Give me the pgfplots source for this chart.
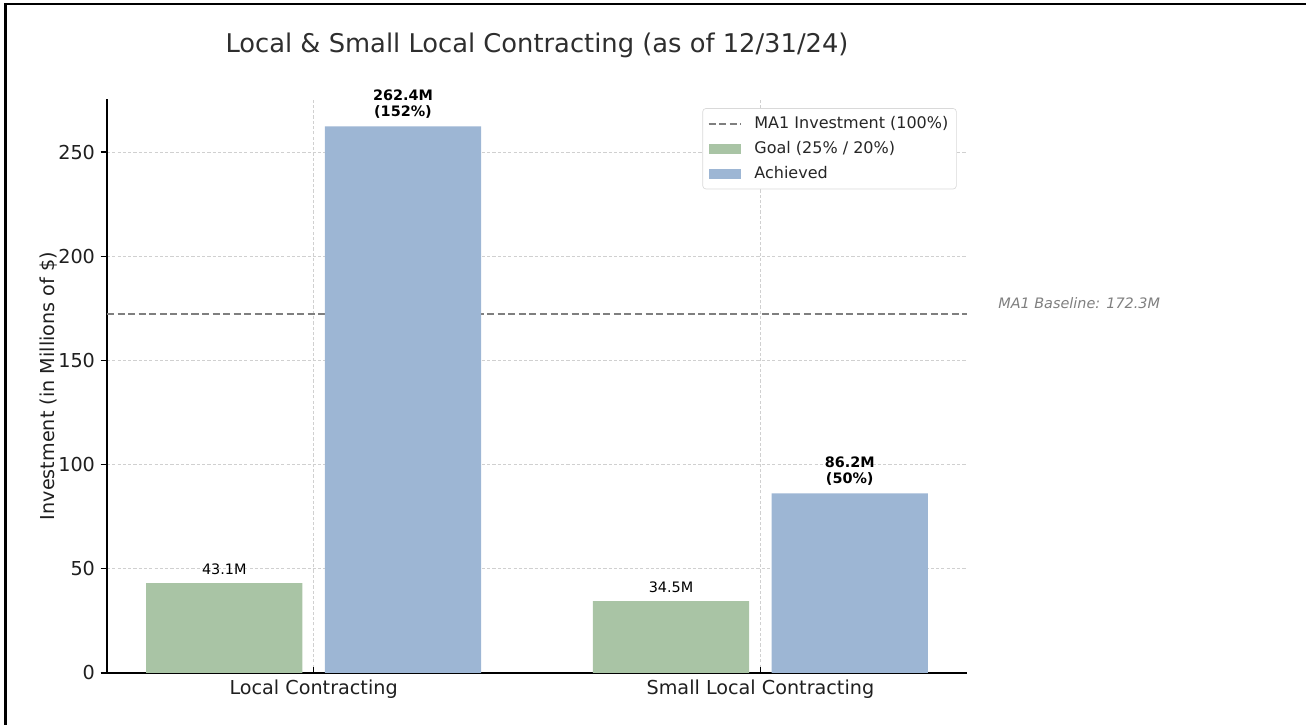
\documentclass[border=0pt]{standalone}
\usepackage{fontspec}
\setmainfont{DejaVu Sans}
\usepackage{pgfplots}
\pgfplotsset{compat=1.18}

\definecolor{goalgreen}{HTML}{A9C4A5}
\definecolor{achblue}{HTML}{9DB6D4}
\definecolor{basegray}{HTML}{7F7F7F}
\definecolor{gridgray}{HTML}{D0D0D0}

\pgfplotsset{
  lineleg/.style={legend image code/.code={\draw[##1, sharp corners] (0pt,0pt) -- (20.6pt,0pt);}},
  barleg/.style={legend image code/.code={\fill[##1, sharp corners] (0pt,-3.2pt) rectangle (20.6pt,3.2pt);}},
}

\begin{document}
\begin{tikzpicture}
\begin{axis}[
  width=537.5pt, height=358.75pt, scale only axis,
  xmin=-0.4625, xmax=1.4625, ymin=0, ymax=275.5,
  axis lines=left,
  axis line style={-, line width=1.1pt, black},
  xtick={0,1},
  xticklabels={Local Contracting, Small Local Contracting},
  ytick={0,50,100,150,200,250},
  tick align=outside, major tick length=4pt,
  tick style={black, line width=0.8pt},
  major x tick style={yshift=4pt},
  xticklabel style={yshift=3pt},
  grid=major,
  major grid style={gridgray, line width=0.6pt, dash pattern=on 2pt off 1.3pt},
  ticklabel style={font=\fontsize{12}{14}\selectfont, text=black!88},
  /pgf/number format/assume math mode=true,
  title={Local \& Small Local Contracting (as of 12/31/24)},
  title style={font=\fontsize{16.1}{19}\selectfont, text=black!82,
    at={(0.5,1)}, anchor=center, yshift=27.5pt},
  ylabel={Investment (in Millions of \$)},
  ylabel style={font=\fontsize{12}{14}\selectfont, text=black!88,
    at={(axis description cs:-0.0675,0.5)}, anchor=center},
  clip=false,
  legend cell align=left,
  legend style={at={(0.988,0.984)}, anchor=north east,
    draw=black!15, rounded corners=2pt, fill=white,
    font=\fontsize{10}{12}\selectfont, text=black!85,
    row sep=2.5pt, inner xsep=3pt, inner ysep=3pt,
    /tikz/every odd column/.append style={column sep=5.5pt}},
]

% MA1 baseline (drawn first so the bars cover it)
\addplot[basegray, line width=1.2pt, dash pattern=on 4.4pt off 2.2pt, lineleg]
  coordinates {(-0.4625,172.3) (1.4625,172.3)};

% goal
\addplot[ybar, bar width=0.35, bar shift=0, fill=goalgreen, draw=none, barleg,
  point meta=explicit symbolic, nodes near coords,
  every node near coord/.append style={font=\fontsize{9}{10}\selectfont,
    text=black, anchor=south, inner sep=1pt, yshift=4pt}]
  coordinates {(-0.2,43.1) [43.1M] (0.8,34.5) [34.5M]};

% achieved
\addplot[ybar, bar width=0.35, bar shift=0, fill=achblue, draw=none, barleg,
  point meta=explicit symbolic, nodes near coords,
  every node near coord/.append style={font=\bfseries\fontsize{9}{10}\selectfont,
    text=black, anchor=south, align=center, inner sep=1pt, yshift=4pt}]
  coordinates {(0.2,262.4) [{262.4M\\(152\%)}] (1.2,86.2) [{86.2M\\(50\%)}]};

\legend{MA1 Investment (100\%), Goal (25\% / 20\%), Achieved}

\node[anchor=west, font=\itshape\fontsize{9}{10}\selectfont, text=basegray]
  at (axis cs:1.52,177.4) {MA1 Baseline: 172.3M};
\end{axis}
\pgfresetboundingbox
\useasboundingbox (-66.875pt,-32.5pt) rectangle (749.375pt,420.625pt);
\draw[line width=1.6pt] (-63.6pt,-32.5pt) -- (-63.6pt,418.1pt) -- (749.375pt,418.1pt);
\end{tikzpicture}
\end{document}
